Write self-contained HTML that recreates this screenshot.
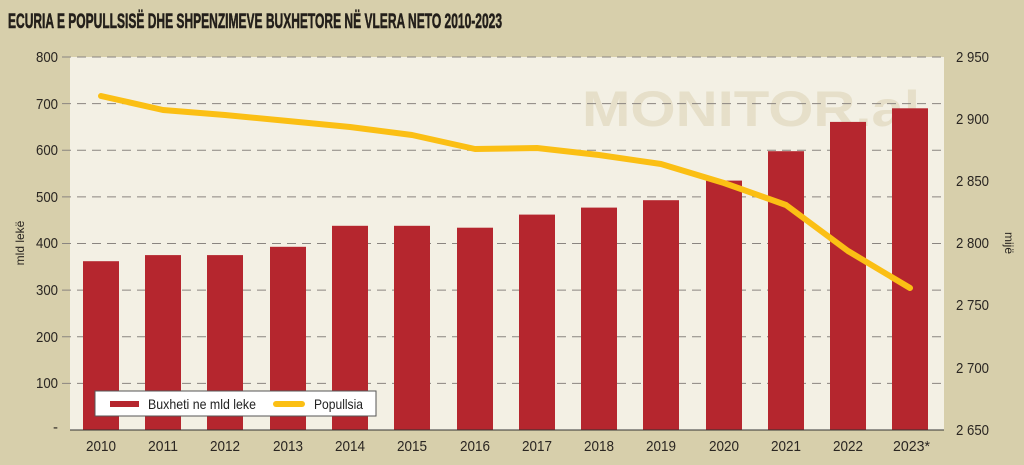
<!DOCTYPE html><html><head><style>body{margin:0;background:#d7cfab}svg{display:block}</style></head><body>
<svg width="1024" height="465" xmlns="http://www.w3.org/2000/svg" font-family="'Liberation Sans',sans-serif">
<rect width="1024" height="465" fill="#d7cfab"/>
<text x="8" y="28" font-size="21" font-weight="bold" fill="#231f1a" stroke="#231f1a" stroke-width="0.6" textLength="494" lengthAdjust="spacingAndGlyphs">ECURIA E POPULLSISË DHE SHPENZIMEVE BUXHETORE NË VLERA NETO 2010-2023</text>
<rect x="70" y="57" width="874" height="373" fill="#f3f0e4"/>
<text x="582" y="126" font-size="50" font-weight="bold" fill="#e6dfc9" textLength="338" lengthAdjust="spacingAndGlyphs">MONITOR.al</text>
<g stroke="#8a8580" stroke-width="1" stroke-dasharray="9,6">
<line x1="62" x2="944" y1="57" y2="57"/><line x1="62" x2="944" y1="103.6" y2="103.6"/><line x1="62" x2="944" y1="150.3" y2="150.3"/><line x1="62" x2="944" y1="196.9" y2="196.9"/><line x1="62" x2="944" y1="243.5" y2="243.5"/><line x1="62" x2="944" y1="290.1" y2="290.1"/><line x1="62" x2="944" y1="336.8" y2="336.8"/><line x1="62" x2="944" y1="383.4" y2="383.4"/>
</g>
<g fill="#b5262e">
<rect x="83" y="261.2" width="36" height="168.8"/><rect x="145" y="255.1" width="36" height="174.9"/><rect x="207" y="255.1" width="36" height="174.9"/><rect x="270" y="246.8" width="36" height="183.2"/><rect x="332" y="225.8" width="36" height="204.2"/><rect x="394" y="225.8" width="36" height="204.2"/><rect x="457" y="227.7" width="36" height="202.3"/><rect x="519" y="214.6" width="36" height="215.4"/><rect x="581" y="207.6" width="36" height="222.4"/><rect x="643" y="200.2" width="36" height="229.8"/><rect x="706" y="180.6" width="36" height="249.4"/><rect x="768" y="151.2" width="36" height="278.8"/><rect x="830" y="121.9" width="36" height="308.1"/><rect x="892" y="108.3" width="36" height="321.7"/>
</g>
<line x1="70" x2="944" y1="430" y2="430" stroke="#333" stroke-width="1"/>
<polyline fill="none" stroke="#fbbf14" stroke-width="6" stroke-linecap="round" stroke-linejoin="round" points="101,96 163,110 225,115 288,121 350,127 412,135 475,149 537,148 599,155 661,164 724,183 786,205 848,251 910,288"/>
<rect x="95" y="391" width="281" height="25" fill="#fff" stroke="#555" stroke-width="1"/>
<rect x="110" y="401" width="29" height="6" fill="#b5262e"/>
<text x="148" y="409" font-size="14" fill="#222" textLength="108" lengthAdjust="spacingAndGlyphs">Buxheti ne mld leke</text>
<line x1="276" x2="302" y1="404" y2="404" stroke="#fbbf14" stroke-width="6" stroke-linecap="round"/>
<text x="314" y="409" font-size="14" fill="#222" textLength="49" lengthAdjust="spacingAndGlyphs">Popullsia</text>
<g font-size="15" fill="#2a2622" text-anchor="end">
<text x="58" y="62" textLength="22" lengthAdjust="spacingAndGlyphs">800</text><text x="58" y="109" textLength="22" lengthAdjust="spacingAndGlyphs">700</text><text x="58" y="155" textLength="22" lengthAdjust="spacingAndGlyphs">600</text><text x="58" y="202" textLength="22" lengthAdjust="spacingAndGlyphs">500</text><text x="58" y="248" textLength="22" lengthAdjust="spacingAndGlyphs">400</text><text x="58" y="295" textLength="22" lengthAdjust="spacingAndGlyphs">300</text><text x="58" y="342" textLength="22" lengthAdjust="spacingAndGlyphs">200</text><text x="58" y="388" textLength="22" lengthAdjust="spacingAndGlyphs">100</text><text x="58" y="432">-</text>
</g>
<g font-size="15" fill="#2a2622">
<text x="956" y="62" textLength="33" lengthAdjust="spacingAndGlyphs">2 950</text><text x="956" y="124" textLength="33" lengthAdjust="spacingAndGlyphs">2 900</text><text x="956" y="186" textLength="33" lengthAdjust="spacingAndGlyphs">2 850</text><text x="956" y="248" textLength="33" lengthAdjust="spacingAndGlyphs">2 800</text><text x="956" y="310" textLength="33" lengthAdjust="spacingAndGlyphs">2 750</text><text x="956" y="373" textLength="33" lengthAdjust="spacingAndGlyphs">2 700</text><text x="956" y="435" textLength="33" lengthAdjust="spacingAndGlyphs">2 650</text>
</g>
<g font-size="15" fill="#2a2622">
<text x="86" y="451" textLength="30" lengthAdjust="spacingAndGlyphs">2010</text><text x="148" y="451" textLength="30" lengthAdjust="spacingAndGlyphs">2011</text><text x="210" y="451" textLength="30" lengthAdjust="spacingAndGlyphs">2012</text><text x="273" y="451" textLength="30" lengthAdjust="spacingAndGlyphs">2013</text><text x="335" y="451" textLength="30" lengthAdjust="spacingAndGlyphs">2014</text><text x="397" y="451" textLength="30" lengthAdjust="spacingAndGlyphs">2015</text><text x="460" y="451" textLength="30" lengthAdjust="spacingAndGlyphs">2016</text><text x="522" y="451" textLength="30" lengthAdjust="spacingAndGlyphs">2017</text><text x="584" y="451" textLength="30" lengthAdjust="spacingAndGlyphs">2018</text><text x="646" y="451" textLength="30" lengthAdjust="spacingAndGlyphs">2019</text><text x="709" y="451" textLength="30" lengthAdjust="spacingAndGlyphs">2020</text><text x="771" y="451" textLength="30" lengthAdjust="spacingAndGlyphs">2021</text><text x="833" y="451" textLength="30" lengthAdjust="spacingAndGlyphs">2022</text><text x="893" y="451" textLength="37" lengthAdjust="spacingAndGlyphs">2023*</text>
</g>
<text transform="translate(24,243) rotate(-90)" font-size="12" fill="#2a2622" text-anchor="middle">mld lekë</text>
<text transform="translate(1005,243) rotate(90)" font-size="12" fill="#2a2622" text-anchor="middle">mijë</text>
</svg></body></html>
